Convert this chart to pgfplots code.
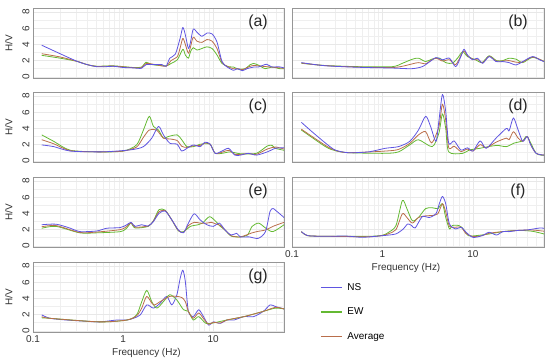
\documentclass[border=0pt]{standalone}
\usepackage{pgfplots}
\pgfplotsset{compat=1.18}
\usepackage{fontspec}
\setmainfont{Liberation Sans}
\definecolor{nscol}{RGB}{95,85,225}
\definecolor{ewcol}{RGB}{100,185,50}
\definecolor{avcol}{RGB}{185,110,75}
\definecolor{framecol}{RGB}{150,150,150}
\definecolor{gridcol}{RGB}{232,232,232}
\pgfplotsset{
  hv/.style={
    scale only axis, width=251bp, height=70bp,
    xmin=0.1, xmax=61, ymin=-0.15, ymax=8.5,
    xtick={0.1,1,10},
    minor xtick={0.2,0.3,0.4,0.5,0.6,0.7,0.8,0.9,2,3,4,5,6,7,8,9,20,30,40,50,60},
    ytick={0,2,4,6,8}, minor ytick={1,3,5,7},
    grid=both, major grid style={draw=gridcol, line width=0.5bp},
    minor grid style={draw=gridcol!70, line width=0.4bp},
    axis line style={draw=framecol, line width=0.8bp},
    tick style={draw=none},
    /pgf/number format/assume math mode=true,
    tick label style={font=\fontsize{10}{12}\selectfont, text=black!80},
    label style={font=\fontsize{10}{12}\selectfont, text=black!80},
    yticklabel style={rotate=90, anchor=south},
    ylabel shift=3bp,
    xlabel style={xshift=-12bp, yshift=1bp},
    every axis plot/.append style={line width=0.8bp, smooth, tension=0.45, line join=round},
    anchor=south west,
  },
  lefty/.style={yticklabels={0,2,4,6,8}, ylabel={H/V}},
  righty/.style={yticklabels={}},
  nox/.style={xticklabels={}},
  withx/.style={xticklabels={0.1,1,10}, xlabel={Frequency (Hz)}},
}
\newcommand{\panellabel}[1]{\node[font=\fontsize{16}{18}\selectfont, text=black!85, xshift=-26bp, yshift=-14bp] at (rel axis cs:1,1) {#1};}
\begin{document}
\begin{tikzpicture}
\useasboundingbox (0,0) rectangle (550bp,360bp);

% (a)
\begin{semilogxaxis}[hv, lefty, nox, at={(33bp,282bp)}]
\addplot[ewcol] coordinates {(0.125,2.65) (0.2,2.3) (0.31,1.9) (0.4,1.5) (0.51,1.3) (0.78,1.35) (1.3,1.15) (1.6,1.2) (1.8,1.8) (2.1,1.5) (3.0,1.35) (3.4,1.65) (4.0,2.1) (4.6,3.4) (4.9,2.7) (5.3,2.3) (5.6,3.1) (6.0,3.6) (6.6,3.3) (7.5,3.5) (8.5,3.7) (9.7,3.5) (11,2.7) (12.5,1.65) (14.8,1.25) (16.8,1.2) (19,0.95) (22.6,1.0) (25.7,1.5) (28,1.65) (31.6,1.45) (37.8,1.0) (44.7,1.2) (55,1.0) (61,1.0)};
\addplot[avcol] coordinates {(0.125,2.85) (0.2,2.45) (0.31,1.9) (0.4,1.5) (0.51,1.28) (0.78,1.32) (1.3,1.12) (1.6,1.12) (1.8,1.65) (2.3,1.5) (3.0,1.3) (3.4,2.0) (4.0,2.5) (4.3,3.6) (4.6,4.75) (4.9,4.0) (5.3,2.9) (5.6,3.7) (6.0,4.9) (6.6,4.4) (7.5,4.25) (8.5,4.6) (9.7,4.4) (11,3.5) (12.5,1.8) (14.5,1.25) (16.8,1.0) (19,0.98) (21.5,0.9) (25,1.25) (28,1.4) (31.6,1.35) (39,1.25) (44.7,1.2) (55,1.1) (61,1.05)};
\addplot[nscol] coordinates {(0.125,3.9) (0.2,2.85) (0.31,1.9) (0.4,1.5) (0.51,1.25) (0.65,1.25) (0.78,1.3) (1.0,1.15) (1.3,1.1) (1.6,1.05) (1.8,1.5) (2.3,1.5) (2.7,1.5) (3.0,1.3) (3.3,2.3) (3.8,2.8) (4.3,4.8) (4.6,6.1) (4.9,5.2) (5.3,3.5) (5.6,4.3) (6.0,5.9) (6.6,5.5) (7.5,5.0) (8.5,5.4) (9.7,5.3) (11,4.3) (12.5,1.9) (14.1,1.25) (16.8,0.8) (18.6,1.0) (21,0.75) (23.7,1.0) (28,1.2) (31.6,1.2) (39,1.55) (44.7,1.2) (53,1.25) (61,1.1)};
\panellabel{(a)}
\end{semilogxaxis}

% (b)
\begin{semilogxaxis}[hv, righty, nox, at={(292bp,282bp)}, width=252bp]
\addplot[ewcol] coordinates {(0.127,1.67) (0.23,1.4) (0.55,1.25) (1.28,1.25) (1.66,1.67) (2.14,2.17) (2.5,2.3) (3.0,1.88) (3.55,2.2) (4.27,2.3) (5.0,1.75) (5.9,1.67) (6.75,2.3) (7.7,3.1) (8.7,2.5) (10.7,2.1) (12.6,1.75) (15.1,2.6) (18.2,2.0) (21.4,2.0) (25.1,2.3) (30,2.17) (35.5,1.75) (45.7,2.4) (61,1.9)};
\addplot[avcol] coordinates {(0.127,1.7) (0.23,1.38) (0.55,1.2) (1.28,1.15) (1.66,1.3) (2.14,1.6) (2.5,1.75) (3.0,1.6) (3.3,1.9) (3.9,2.3) (4.6,1.95) (5.5,2.1) (6.45,1.5) (7.5,2.8) (8.0,3.2) (8.7,2.6) (10.3,2.1) (11.5,2.1) (12.8,1.7) (15.1,2.55) (18,1.95) (21.4,1.95) (25,2.0) (30,1.8) (35.5,1.82) (45.7,2.45) (61,1.9)};
\addplot[nscol] coordinates {(0.127,1.75) (0.23,1.37) (0.55,1.17) (1.28,1.08) (2.1,1.0) (2.75,1.25) (3.3,1.83) (3.9,2.37) (4.6,2.1) (5.5,2.3) (6.45,1.25) (7.35,2.5) (7.95,3.4) (8.7,2.7) (9.9,2.1) (11.2,2.3) (12.8,1.67) (15.1,2.5) (18,1.88) (21.4,1.88) (25,1.75) (30,1.46) (35.5,1.88) (45.7,2.5) (55,2.08) (61,1.88)};
\panellabel{(b)}
\end{semilogxaxis}

% (c)
\begin{semilogxaxis}[hv, lefty, nox, at={(33bp,198bp)}]
\addplot[ewcol] coordinates {(0.125,3.2) (0.17,2.4) (0.26,1.3) (0.55,1.1) (1.0,1.2) (1.41,1.96) (1.68,3.8) (1.95,5.5) (2.17,4.25) (2.47,3.8) (2.8,2.8) (3.16,3.0) (3.98,3.2) (4.47,2.6) (5.1,1.75) (6.0,1.75) (7.16,2.04) (8.13,2.1) (9.27,2.04) (10.5,0.92) (12.5,0.92) (15.5,1.1) (20,0.87) (30,0.92) (39.8,1.83) (45,1.9) (49,1.54) (61,1.3)};
\addplot[avcol] coordinates {(0.125,2.6) (0.17,2.1) (0.26,1.25) (0.55,1.1) (1.0,1.2) (1.41,1.7) (1.68,2.9) (1.95,3.8) (2.35,3.8) (2.8,2.8) (3.3,2.7) (3.98,2.5) (4.47,1.8) (5.1,1.65) (6.0,1.85) (7.16,1.9) (8.13,2.2) (9.27,2.04) (10.5,0.92) (12.5,1.05) (14.8,1.3) (17.4,0.8) (20,0.78) (24.5,0.9) (30.2,0.8) (39.8,1.45) (49,1.7) (61,1.45)};
\addplot[nscol] coordinates {(0.125,1.96) (0.17,1.75) (0.26,1.2) (0.55,1.1) (0.85,1.2) (1.3,1.4) (1.68,1.75) (2.08,2.8) (2.47,4.25) (2.8,3.2) (3.3,2.17) (3.98,2.04) (4.47,1.2) (5.1,1.54) (6.0,1.96) (7.16,1.75) (8.13,2.3) (9.27,2.04) (10.5,0.92) (12.5,1.2) (14.8,1.54) (17.4,0.7) (20,0.7) (24.5,0.92) (30.2,0.7) (39.8,1.1) (49,1.54) (61,1.6)};
\panellabel{(c)}
\end{semilogxaxis}

% (d)
\begin{semilogxaxis}[hv, righty, nox, at={(292bp,198bp)}, width=252bp]
\addplot[ewcol] coordinates {(0.127,3.8) (0.234,1.75) (0.3,1.25) (0.42,1.0) (1.07,0.92) (1.5,1.1) (2.0,1.96) (2.5,2.6) (3.55,1.75) (4.2,3.4) (4.6,5.8) (5.0,4.0) (5.4,1.1) (7.7,0.92) (9.1,1.33) (11.9,1.54) (14.8,1.75) (18.6,1.9) (23.4,1.75) (28.2,2.17) (35.5,2.46) (39.8,3.0) (50,0.92) (61,0.7)};
\addplot[avcol] coordinates {(0.127,3.9) (0.234,1.9) (0.3,1.3) (0.42,1.0) (1.07,1.2) (1.5,1.4) (2.0,2.15) (2.5,3.2) (3.0,3.6) (3.5,2.2) (4.2,4.2) (4.6,7.0) (5.0,5.0) (5.4,1.6) (6.2,1.8) (7.35,1.15) (8.7,1.45) (10,1.2) (12,2.0) (14,1.6) (18,2.3) (23.4,2.8) (25.1,2.6) (28,3.6) (31.6,2.8) (35.5,2.4) (39.8,3.0) (43.6,1.96) (50,0.92) (61,0.7)};
\addplot[nscol] coordinates {(0.127,4.75) (0.166,3.6) (0.234,2.2) (0.3,1.33) (0.42,1.0) (0.7,1.1) (1.07,1.54) (1.5,1.75) (2.0,2.4) (2.5,3.8) (3.0,5.5) (3.4,4.25) (3.9,2.4) (4.2,4.9) (4.6,8.2) (5.0,6.1) (5.4,2.17) (6.2,2.46) (7.35,1.33) (8.7,1.6) (10,1.2) (12,2.46) (14,1.54) (18,2.8) (23.4,4.0) (25.1,3.7) (28,5.3) (31.6,3.8) (35.5,2.4) (39.8,3.0) (43.6,1.96) (50,0.92) (61,0.7)};
\panellabel{(d)}
\end{semilogxaxis}

% (e)
\begin{semilogxaxis}[hv, lefty, nox, at={(33bp,113bp)}]
\addplot[ewcol] coordinates {(0.125,2.17) (0.18,2.4) (0.33,1.6) (0.51,1.6) (0.93,1.75) (1.1,2.2) (1.22,2.8) (1.36,2.2) (1.9,2.4) (2.17,3.1) (2.5,4.46) (2.93,4.4) (3.47,3.2) (4.1,1.85) (4.68,1.75) (5.6,2.4) (6.8,2.6) (7.6,2.8) (9.1,3.6) (10.7,3.0) (12.0,2.4) (13.5,1.96) (15.8,1.2) (20,1.1) (24,1.33) (27,2.4) (32,2.8) (38,2.2) (46,1.75) (61,2.6)};
\addplot[avcol] coordinates {(0.125,2.35) (0.18,2.5) (0.33,1.65) (0.51,1.7) (0.93,2.0) (1.1,2.4) (1.22,2.85) (1.36,2.3) (1.9,2.45) (2.17,3.05) (2.5,4.2) (2.93,4.35) (3.47,3.2) (4.1,1.9) (4.68,1.65) (5.3,2.5) (6.15,2.9) (7.16,2.8) (8.5,2.8) (9.5,2.9) (10.7,2.7) (12,2.5) (13.5,1.96) (15.8,1.25) (20,1.1) (27,1.6) (32,1.8) (38,1.95) (46,2.4) (61,2.9)};
\addplot[nscol] coordinates {(0.125,2.6) (0.18,2.67) (0.26,2.17) (0.33,1.75) (0.51,1.83) (0.66,2.17) (0.93,2.25) (1.1,2.6) (1.22,2.9) (1.36,2.4) (1.6,2.6) (1.9,2.45) (2.17,3.0) (2.5,4.0) (2.93,4.3) (3.47,3.2) (4.1,1.96) (4.68,1.6) (5.3,2.8) (6.15,3.96) (7.16,3.2) (8.5,2.6) (10,2.4) (11.7,2.8) (13.5,1.96) (15.8,1.33) (18.2,1.54) (20,1.1) (25,1.1) (31.6,0.92) (38,1.75) (42.7,4.25) (46,4.6) (49,4.4) (61,3.5)};
\panellabel{(e)}
\end{semilogxaxis}

% (f)
\begin{semilogxaxis}[hv, righty, withx, at={(292bp,113bp)}, width=252bp]
\addplot[ewcol] coordinates {(0.127,1.75) (0.15,1.25) (0.26,1.17) (0.7,1.17) (1.0,1.3) (1.17,1.67) (1.41,2.5) (1.66,5.6) (1.86,4.6) (2.14,3.1) (2.5,3.5) (3.0,4.6) (3.55,4.7) (4.1,4.6) (4.6,5.2) (5.0,3.5) (5.5,2.08) (5.9,2.5) (7.0,2.5) (7.8,2.08) (8.9,1.25) (10.7,1.25) (15.1,1.46) (21.4,1.75) (31.6,1.9) (45,1.8) (61,1.46)};
\addplot[avcol] coordinates {(0.127,1.75) (0.15,1.25) (0.26,1.17) (0.7,1.12) (1.0,1.27) (1.17,1.5) (1.41,2.0) (1.66,3.96) (1.86,3.5) (2.14,2.8) (2.5,3.5) (3.0,3.7) (3.55,3.75) (4.1,3.96) (4.6,5.2) (5.0,4.2) (5.5,2.4) (6.45,2.3) (7.4,2.3) (8.4,1.5) (10,1.15) (12.6,1.25) (15.1,1.55) (21.4,1.75) (31.6,1.9) (45,1.95) (61,1.8)};
\addplot[nscol] coordinates {(0.127,1.75) (0.15,1.25) (0.23,1.17) (0.4,1.2) (0.6,1.05) (1.0,1.25) (1.4,1.46) (1.7,2.08) (1.9,2.7) (2.1,2.5) (2.3,2.2) (2.75,3.6) (3.3,3.5) (3.9,3.96) (4.25,5.2) (4.6,6.1) (5.0,5.2) (5.5,2.7) (6.45,2.08) (7.4,2.3) (8.4,1.67) (10,1.04) (12.6,1.25) (15.1,1.67) (18.2,1.33) (21.4,1.75) (25.1,1.75) (31.6,1.9) (39.8,1.96) (55,2.2) (61,2.15)};
\panellabel{(f)}
\end{semilogxaxis}

% (g)
\begin{semilogxaxis}[hv, lefty, withx, at={(33bp,28bp)},
  legend style={at={(1.143,0.725)}, anchor=north west, draw=none, fill=none,
    font=\fontsize{10}{12}\selectfont, row sep=12bp, column sep=3bp, inner sep=0pt},
  legend cell align=left,
  legend image code/.code={\draw[#1, line width=1.4bp, sharp plot] (0bp,0bp) -- (21bp,0bp);}]
\addplot[nscol] coordinates {(0.125,1.96) (0.155,1.54) (0.234,1.33) (0.36,1.2) (0.55,1.1) (0.85,1.33) (1.1,1.33) (1.3,1.54) (1.55,1.96) (1.83,3.2) (2.17,2.8) (2.57,3.4) (3.05,4.25) (3.47,3.2) (3.95,4.46) (4.3,6.5) (4.6,7.5) (4.9,6.1) (5.3,2.4) (6.0,1.75) (6.9,2.6) (7.8,1.75) (8.9,0.7) (10,1.1) (12,0.92) (14.1,1.33) (17,1.33) (21.9,1.75) (28,1.75) (36,2.4) (42.7,3.2) (49,3.0) (61,2.7)};
\addlegendentry{NS}
\addplot[ewcol] coordinates {(0.125,1.6) (0.155,1.54) (0.55,1.1) (1.1,1.33) (1.41,1.96) (1.61,3.6) (1.83,5.0) (2.08,3.6) (2.37,2.8) (2.8,3.6) (3.3,4.46) (3.95,3.8) (4.68,2.6) (5.3,2.4) (6.0,1.33) (6.9,1.75) (8.3,0.92) (10,0.97) (14.1,1.33) (21.9,1.75) (36,2.4) (49,2.8) (61,2.7)};
\addlegendentry{EW}
\addplot[avcol] coordinates {(0.125,1.75) (0.155,1.54) (0.55,1.1) (1.1,1.33) (1.41,1.85) (1.61,2.8) (1.83,4.25) (2.17,3.2) (2.57,3.6) (3.3,4.25) (3.95,4.25) (4.5,4.1) (4.9,3.6) (5.3,2.4) (6.0,1.55) (6.9,2.2) (7.8,1.5) (8.9,0.8) (10,1.05) (12,0.95) (14.1,1.33) (21.9,1.75) (36,2.4) (49,2.9) (61,2.7)};
\addlegendentry{Average}
\panellabel{(g)}
\end{semilogxaxis}
\end{tikzpicture}
\end{document}
